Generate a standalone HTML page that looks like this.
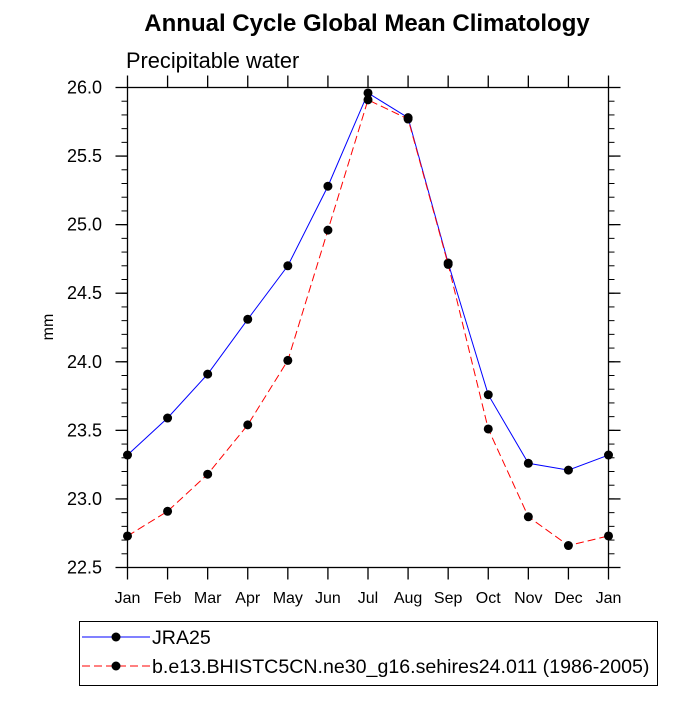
<!DOCTYPE html>
<html><head><meta charset="utf-8"><style>
body{margin:0;background:#fff}
svg{font-family:"Liberation Sans",sans-serif}
</style></head><body>
<svg id="c" width="700" height="700" viewBox="0 0 700 700" xmlns="http://www.w3.org/2000/svg">
<text x="367" y="31" font-size="24" font-weight="bold" text-anchor="middle">Annual Cycle Global Mean Climatology</text>
<text x="126" y="68" font-size="21.8">Precipitable water</text>
<text x="53" y="327" font-size="16" text-anchor="middle" transform="rotate(-90 53 327)">mm</text>
<rect x="127.5" y="87.5" width="481" height="480" fill="none" stroke="#000" stroke-width="1.3"/>
<g id="axes"></g>
<g id="series"></g>
<rect x="79.5" y="621.5" width="578" height="64" fill="none" stroke="#000"/>
<g>
<line x1="82" y1="637" x2="150" y2="637" stroke="#0000ff"/><circle cx="116" cy="637" r="4.5"/>
<text x="152" y="644" font-size="19.6">JRA25</text></g>
<g>
<line x1="82" y1="666" x2="150" y2="666" stroke="#ff0000" stroke-dasharray="8,4"/><circle cx="116" cy="666" r="4.5"/>
<text x="152" y="673" font-size="19.6">b.e13.BHISTC5CN.ne30_g16.sehires24.011 (1986-2005)</text></g>
</svg>
<script>
const months=["Jan","Feb","Mar","Apr","May","Jun","Jul","Aug","Sep","Oct","Nov","Dec","Jan"];
const jra=[23.32,23.59,23.91,24.31,24.70,25.28,25.96,25.78,24.72,23.76,23.26,23.21,23.32];
const model=[22.73,22.91,23.18,23.54,24.01,24.96,25.91,25.77,24.71,23.51,22.87,22.66,22.73];
const yTicks=["22.5","23.0","23.5","24.0","24.5","25.0","25.5","26.0"];
const NS="http://www.w3.org/2000/svg";
const x0=127.5,x1=608.5,y0=567.5,y1=87.5,vmin=22.5,vmax=26.0;
const X=i=>x0+(x1-x0)*i/(months.length-1);
const Y=v=>y0-(y0-y1)*(v-vmin)/(vmax-vmin);
function mk(t,a,p){const e=document.createElementNS(NS,t);for(const k in a)e.setAttribute(k,a[k]);p.appendChild(e);return e;}
const ax=document.getElementById('axes');
yTicks.forEach(t=>{const v=+t,y=Y(v);
 mk('line',{x1:x0,y1:y,x2:x0-12,y2:y,stroke:'#000','stroke-width':1.3},ax);
 mk('line',{x1:x1,y1:y,x2:x1+12,y2:y,stroke:'#000','stroke-width':1.3},ax);
 const tx=mk('text',{x:102,y:y+6,'font-size':18,'text-anchor':'end'},ax);tx.textContent=t;
 
 
});
for(let v=vmin;v<=vmax+1e-6;v+=0.1){const y=Y(v);
 mk('line',{x1:x0,y1:y,x2:x0-6,y2:y,stroke:'#000'},ax);
 mk('line',{x1:x1,y1:y,x2:x1+6,y2:y,stroke:'#000'},ax);}
months.forEach((m,i)=>{const x=X(i);
 mk('line',{x1:x,y1:y0,x2:x,y2:y0+12,stroke:'#000','stroke-width':1.3},ax);
 mk('line',{x1:x,y1:y1,x2:x,y2:y1-12,stroke:'#000','stroke-width':1.3},ax);
 const tx=mk('text',{x:x,y:603,'font-size':16,'text-anchor':'middle'},ax);tx.textContent=m;
 
 
});
const sg=document.getElementById('series');
function draw(vals,col,dash,name){
 const g=mk('g',{},sg);
 
 
 mk('polyline',{points:vals.map((v,i)=>X(i)+','+Y(v)).join(' '),fill:'none',stroke:col,'stroke-dasharray':dash},g);
 vals.forEach((v,i)=>{const c=mk('circle',{cx:X(i),cy:Y(v),r:4.5,fill:'#000'},g);
  
  });
}
draw(jra,'#0000ff','none','series-jra25');
draw(model,'#ff0000','8,4','series-model');
</script>
</body></html>
